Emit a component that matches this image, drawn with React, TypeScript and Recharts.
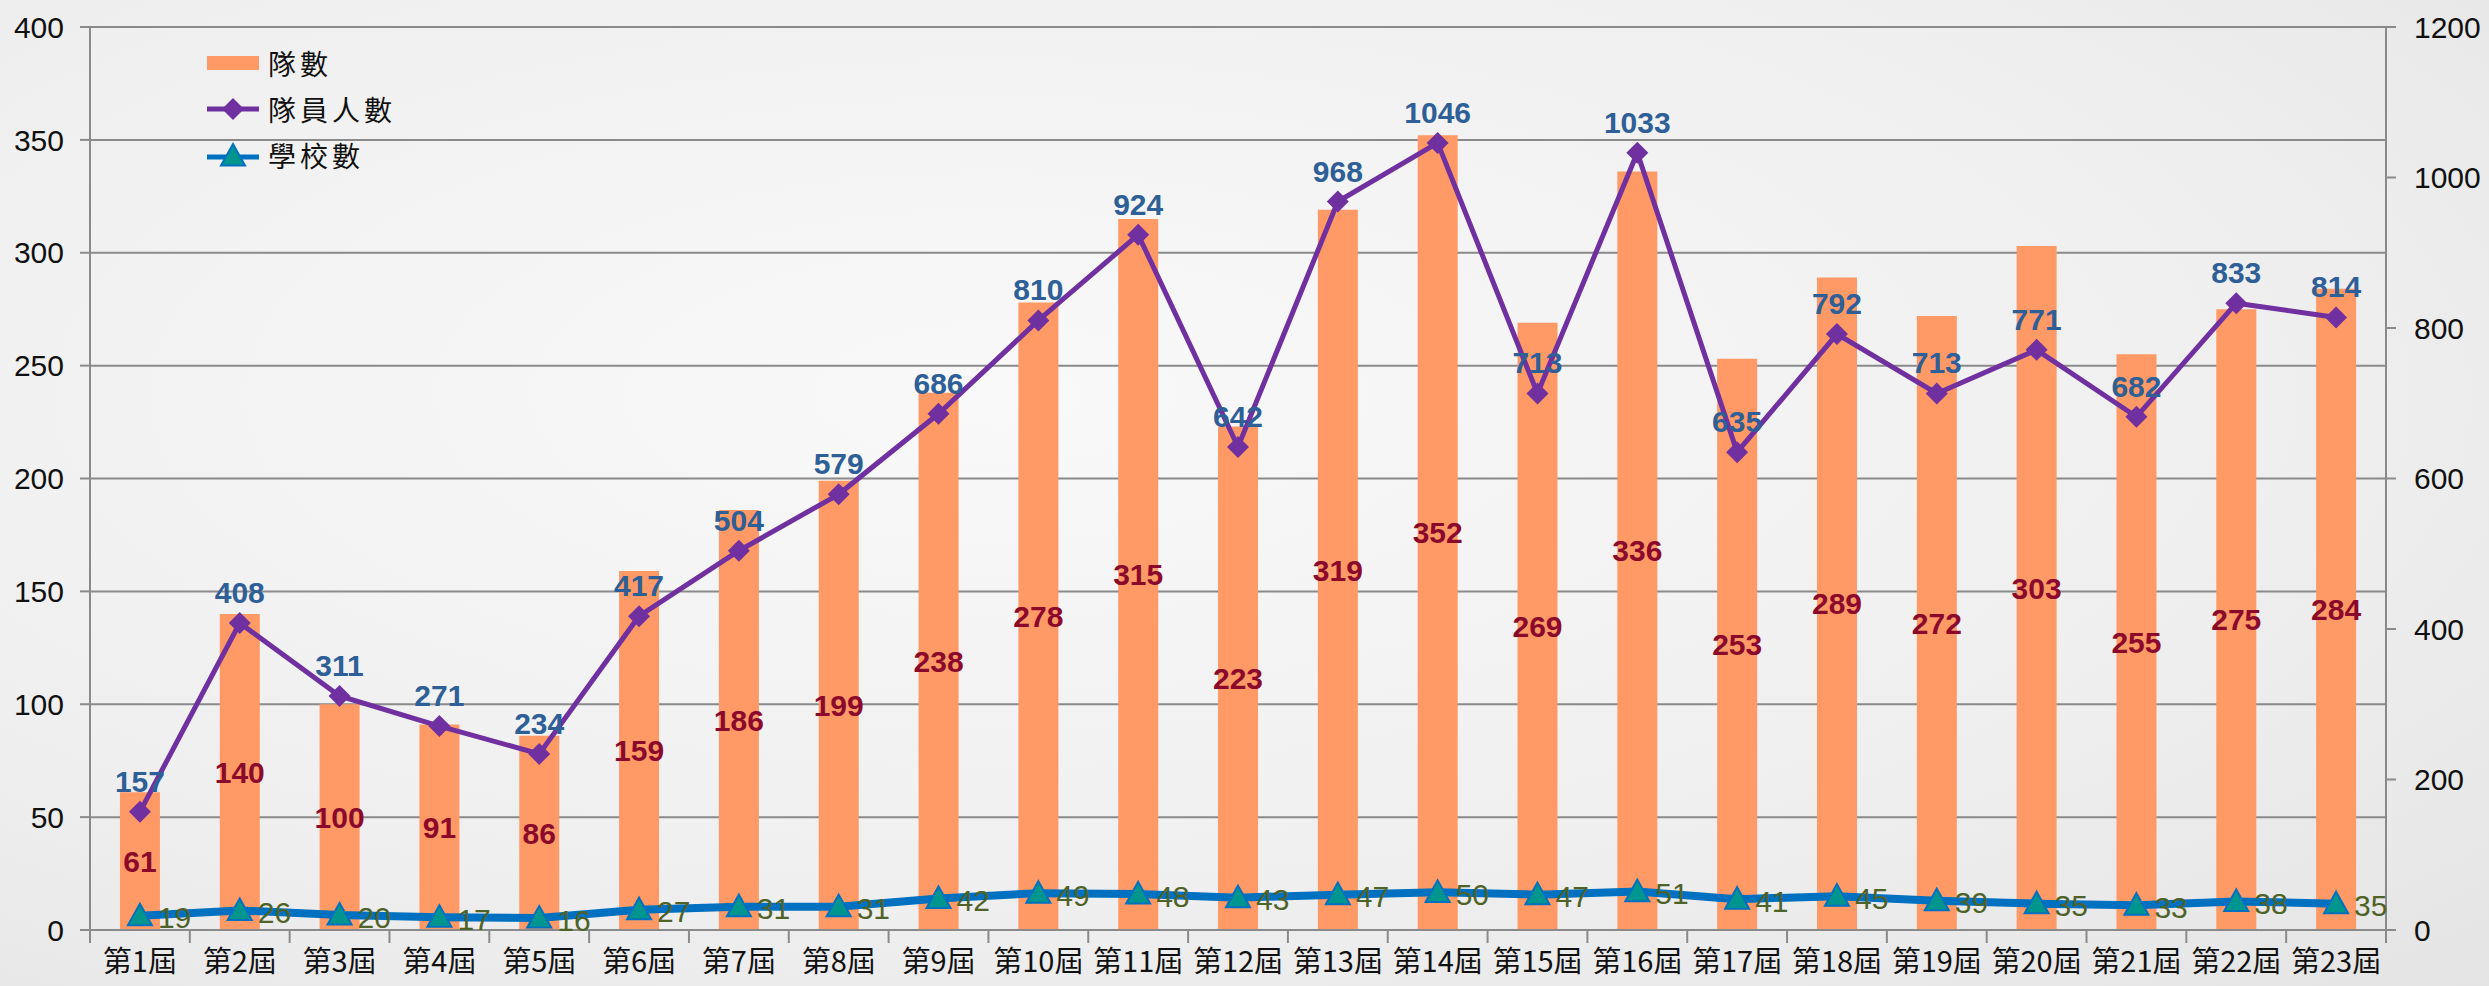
import React from 'react';
import {
  ComposedChart, Bar, Line, XAxis, YAxis, CartesianGrid, LabelList,
} from 'recharts';

const periods = [
  '第1屆', '第2屆', '第3屆', '第4屆', '第5屆', '第6屆', '第7屆', '第8屆', '第9屆', '第10屆', '第11屆', '第12屆',
  '第13屆', '第14屆', '第15屆', '第16屆', '第17屆', '第18屆', '第19屆', '第20屆', '第21屆', '第22屆', '第23屆',
];
const teams = [61, 140, 100, 91, 86, 159, 186, 199, 238, 278, 315, 223, 319, 352, 269, 336, 253, 289, 272, 303, 255, 275, 284];
const members = [157, 408, 311, 271, 234, 417, 504, 579, 686, 810, 924, 642, 968, 1046, 713, 1033, 635, 792, 713, 771, 682, 833, 814];
const schools = [19, 26, 20, 17, 16, 27, 31, 31, 42, 49, 48, 43, 47, 50, 47, 51, 41, 45, 39, 35, 33, 38, 35];

const leftTicks = [0, 50, 100, 150, 200, 250, 300, 350, 400];
const rightTicks = [0, 200, 400, 600, 800, 1000, 1200];

const data = periods.map((p, i) => ({
  period: p,
  teams: teams[i],
  members: members[i],
  schools: schools[i],
}));

const GRID = '#8a8a8a';
const BAR = '#ff9966';
const PURPLE = '#7030a0';
const BLUE = '#0070c0';
const TEAL = '#00968f';
const NARROW = '"Liberation Sans Narrow", "Arial Narrow", "Liberation Sans", Arial, sans-serif';
const CJK = '"Noto Sans CJK TC", "Liberation Sans", sans-serif';

const Diamond = (props: any) => {
  const { cx, cy } = props;
  if (cx == null || cy == null) return null;
  const r = 11;
  return <polygon points={`${cx},${cy - r} ${cx + r},${cy} ${cx},${cy + r} ${cx - r},${cy}`} fill={PURPLE} />;
};

const Triangle = (props: any) => {
  const { cx, cy } = props;
  if (cx == null || cy == null) return null;
  const r = 12;
  return (
    <polygon
      points={`${cx},${cy - r} ${cx + r},${cy + r * 0.8} ${cx - r},${cy + r * 0.8}`}
      fill={TEAL}
      stroke={BLUE}
      strokeWidth={2}
    />
  );
};

// category label plus tick marks on the category boundaries
const PeriodTick = (props: any) => {
  const { x, y, payload, index, width, visibleTicksCount } = props;
  const band = width / visibleTicksCount;
  const top = y - 8;
  return (
    <g>
      <line x1={x - band / 2} y1={top} x2={x - band / 2} y2={top + 13} stroke={GRID} strokeWidth={2} />
      {index === visibleTicksCount - 1 && (
        <line x1={x + band / 2} y1={top} x2={x + band / 2} y2={top + 13} stroke={GRID} strokeWidth={2} />
      )}
      <text x={x} y={y + 34} textAnchor="middle" fontFamily={CJK} fontSize={29} fill="#111">
        {payload.value}
      </text>
    </g>
  );
};

const LegendBox = () => {
  const row = { display: 'flex', alignItems: 'center', height: 46 } as const;
  const txt = { fontFamily: CJK, fontSize: 28, letterSpacing: 4, color: '#111', marginLeft: 8 } as const;
  return (
    <div style={{ position: 'absolute', left: 206, top: 40 }}>
      <div style={row}>
        <svg width={54} height={20}><rect x={1} y={3} width={52} height={14} fill={BAR} /></svg>
        <span style={txt}>隊數</span>
      </div>
      <div style={row}>
        <svg width={54} height={28}>
          <line x1={1} y1={14} x2={53} y2={14} stroke={PURPLE} strokeWidth={5} />
          <Diamond cx={27} cy={14} />
        </svg>
        <span style={txt}>隊員人數</span>
      </div>
      <div style={row}>
        <svg width={54} height={28}>
          <line x1={1} y1={16} x2={53} y2={16} stroke={BLUE} strokeWidth={5} />
          <Triangle cx={27} cy={15} />
        </svg>
        <span style={txt}>學校數</span>
      </div>
    </div>
  );
};

export default function App() {
  return (
    <div
      style={{
        position: 'absolute',
        left: 0,
        top: 0,
        width: 2489,
        height: 986,
        background: 'radial-gradient(ellipse at 40% 40%, #f9f9f9 0%, #efefef 60%, #e4e4e4 100%)',
      }}
    >
      <ComposedChart
        width={2489}
        height={986}
        data={data}
        margin={{ top: 27, right: 0, bottom: 0, left: 0 }}
        barCategoryGap="30%"
      >
        <CartesianGrid horizontal vertical={false} stroke={GRID} strokeWidth={2} yAxisId="left" />
        <XAxis
          dataKey="period"
          height={56}
          interval={0}
          axisLine={{ stroke: GRID, strokeWidth: 2 }}
          tickLine={false}
          tick={<PeriodTick />}
        />
        <YAxis
          yAxisId="left"
          domain={[0, 400]}
          ticks={leftTicks}
          width={90}
          axisLine={{ stroke: GRID, strokeWidth: 2 }}
          tickLine={{ stroke: GRID, strokeWidth: 2 }}
          tickSize={10}
          tickMargin={16}
          tick={{ fontFamily: '"Liberation Sans", Arial, sans-serif', fontSize: 30, fill: '#111' }}
        />
        <YAxis
          yAxisId="right"
          orientation="right"
          domain={[0, 1200]}
          ticks={rightTicks}
          width={103}
          axisLine={{ stroke: GRID, strokeWidth: 2 }}
          tickLine={{ stroke: GRID, strokeWidth: 2 }}
          tickSize={10}
          tickMargin={18}
          tick={{ fontFamily: '"Liberation Sans", Arial, sans-serif', fontSize: 30, fill: '#111' }}
        />
        <Bar dataKey="teams" name="隊數" yAxisId="left" fill={BAR} isAnimationActive={false}>
          <LabelList
            dataKey="teams"
            position="center"
            fill="#8b0a2c"
            fontFamily={NARROW}
            fontWeight="bold"
            fontSize={30}
          />
        </Bar>
        <Line
          dataKey="members"
          name="隊員人數"
          yAxisId="right"
          stroke={PURPLE}
          strokeWidth={5}
          dot={<Diamond />}
          activeDot={false}
          isAnimationActive={false}
        >
          <LabelList
            dataKey="members"
            position="top"
            offset={20}
            fill="#2e5f96"
            fontFamily={NARROW}
            fontWeight="bold"
            fontSize={30}
          />
        </Line>
        <Line
          dataKey="schools"
          name="學校數"
          yAxisId="right"
          stroke={BLUE}
          strokeWidth={8}
          dot={<Triangle />}
          activeDot={false}
          isAnimationActive={false}
        >
          <LabelList
            dataKey="schools"
            position="right"
            offset={18}
            dy={2}
            fill="#4f6228"
            fontFamily={NARROW}
            fontSize={30}
          />
        </Line>
      </ComposedChart>
      <LegendBox />
    </div>
  );
}
